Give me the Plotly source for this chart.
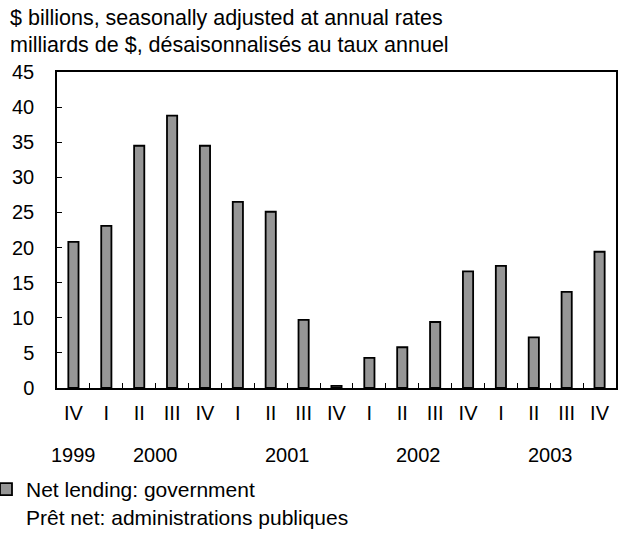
import plotly.graph_objects as go

quarters = ["IV", "I", "II", "III", "IV", "I", "II", "III", "IV",
            "I", "II", "III", "IV", "I", "II", "III", "IV"]
values = [20.8, 23.1, 34.5, 38.8, 34.5, 26.5, 25.1, 9.7, 0.3,
          4.3, 5.8, 9.4, 16.6, 17.4, 7.2, 13.7, 19.4]
years = ["1999", "2000", "2001", "2002", "2003"]
year_pos = [0, 2.5, 6.5, 10.5, 14.5]

title_lines = ["$ billions, seasonally adjusted at annual rates",
               "milliards de $, désaisonnalisés au taux annuel"]
legend_name = "Net lending: government<br>Prêt net: administrations publiques"

FONT = "Liberation Sans, Arial, sans-serif"
L, R, T, B = 57, 6, 72, 160
W, H = 622, 548
PW, PH = W - L - R, H - T - B

x = list(range(len(values)))
boundaries = [i + 0.5 for i in range(len(values) - 1)]

fig = go.Figure()
fig.add_trace(go.Bar(
    x=x, y=values, name=legend_name,
    marker=dict(color="#969696", line=dict(color="black", width=1.8)),
    width=0.31, showlegend=True,
))

fig.update_layout(
    width=W, height=H,
    margin=dict(l=L, r=R, t=T, b=B, autoexpand=False),
    paper_bgcolor="white", plot_bgcolor="white",
    font=dict(family=FONT, size=20, color="black"),
    showlegend=True,
    legend=dict(x=(-14 - L) / PW, xanchor="left", y=-(469 - (T + PH)) / PH,
                yanchor="top", valign="top", bgcolor="rgba(0,0,0,0)",
                font=dict(family=FONT, size=21, color="black"),
                itemwidth=30),
    bargap=0.68,
)

fig.update_xaxes(
    range=[-0.5, len(values) - 0.5],
    tickmode="array", tickvals=x, ticktext=quarters, ticks="",
    showline=True, linecolor="black", linewidth=1.5, mirror=True,
    showgrid=False, zeroline=False, ticklabelstandoff=6,
    minor=dict(tickmode="array", tickvals=boundaries, ticks="inside",
               ticklen=5, tickcolor="black", tickwidth=1, showgrid=False),
    fixedrange=True,
)
fig.update_yaxes(
    range=[0, 45], dtick=5, tick0=0, ticks="inside", ticklen=5,
    tickcolor="black", tickwidth=1,
    showline=True, linecolor="black", linewidth=1.5, mirror=True,
    showgrid=False, zeroline=False, ticklabelstandoff=17,
    fixedrange=True,
)

for yr, pos in zip(years, year_pos):
    fig.add_annotation(x=pos, y=-(455 - (T + PH)) / PH, xref="x", yref="paper",
                       text=yr, showarrow=False, yanchor="middle",
                       xanchor="center",
                       font=dict(family=FONT, size=20, color="black"))

for line, py in zip(title_lines, [18, 45]):
    fig.add_annotation(x=(8 - L) / PW, y=((T + PH) - py) / PH, xref="paper",
                       yref="paper", text=line, showarrow=False,
                       xanchor="left", yanchor="middle", align="left",
                       font=dict(family=FONT, size=21.5, color="black"))

fig.write_html(
    "out.html",
    config={"displayModeBar": False},
    post_script="document.body.style.margin='0';"
                "document.body.style.overflow='hidden';",
)
